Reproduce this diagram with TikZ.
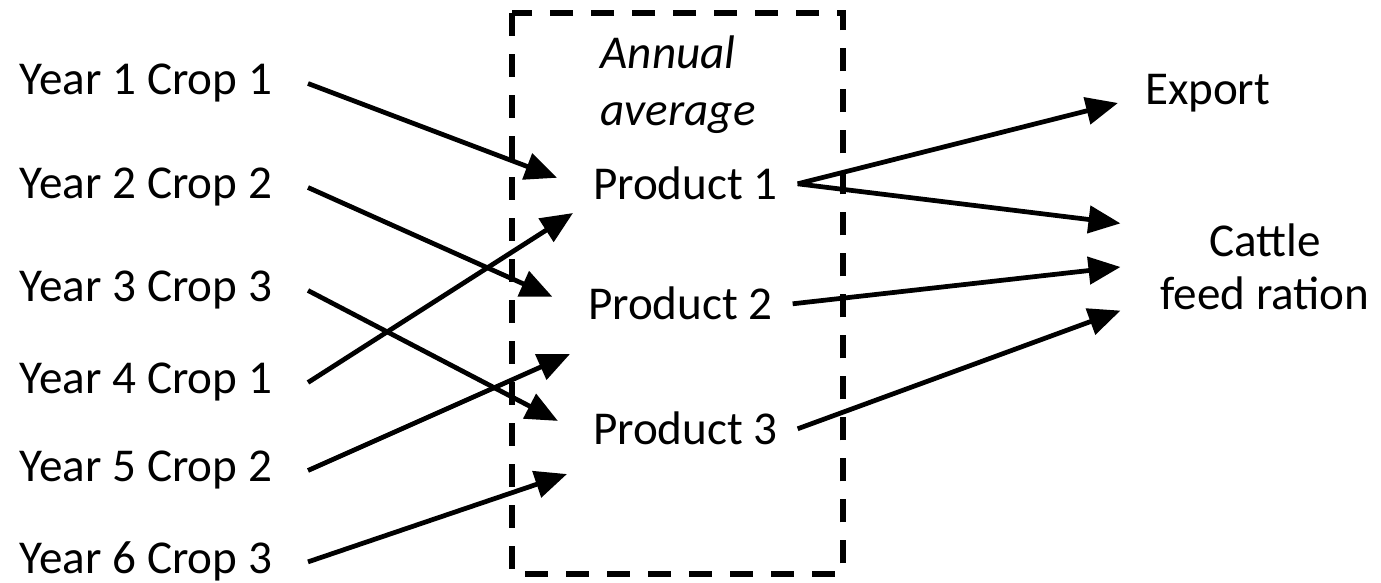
\documentclass[tikz,border=0pt]{standalone}
\usepackage{fontspec}
\setmainfont{Carlito}
\usetikzlibrary{arrows.meta}

\begin{document}
\begin{tikzpicture}[x=0.01cm, y=-0.01cm,
    every node/.style={inner sep=0, font=\fontsize{13.4}{16}\selectfont},
    crop/.style={anchor=base east, outer xsep=0.36cm},
    product/.style={anchor=base west, outer xsep=0.2cm},
    flow/.style={line width=1.35pt, -{Triangle[length=0.32cm,width=0.27cm]}},
    frame/.style={line width=1.5pt, dash pattern=on 0.23cm off 0.18cm}]
    \useasboundingbox (0,0) rectangle (1381,583);

    \foreach \n/\c/\y in {1/1/95, 2/2/199, 3/3/302, 4/1/394, 5/2/482, 6/3/574}
        \node[crop] (year\n) at (308,\y) {Year \n\ Crop \c};

    \draw[frame] (512,13) rectangle (843,574);
    \node[anchor=west, align=left, font=\itshape\fontsize{13.4}{16.2}\selectfont] (avg) at (600,85) {Annual\\average};

    \node[product] (prod1) at (573,200) {Product 1};
    \node[product] (prod2) at (568,320) {Product 2};
    \node[product] (prod3) at (573,445) {Product 3};

    \node[anchor=base west, outer xsep=0.27cm] (export) at (1118,105) {Export};
    \node[align=center, outer xsep=0.4cm, font=\fontsize{13.4}{15}\selectfont] (cattle) at (1265,267) {Cattle\\feed ration};

    \draw[flow, shorten >=0.17cm] (year1.east) -- (prod1.west);
    \draw[flow, shorten >=0.17cm] (year2.east) -- (prod2.west);
    \draw[flow, shorten >=0.17cm] (year3.east) -- (prod3.west);
    \draw[flow] (year4.east) -- ([shift={(0,12)}]prod1.south west);
    \draw[flow] (year5.east) -- ([shift={(2,33)}]prod2.south west);
    \draw[flow] (year6.east) -- ([shift={(-6,28)}]prod3.south west);

    \draw[flow] (prod1.east) -- ([yshift=0.02cm]export.base west);
    \draw[flow] (prod1.east) -- (cattle.north west);
    \draw[flow] (prod2.east) -- (cattle.west);
    \draw[flow] (prod3.east) -- (cattle.south west);
\end{tikzpicture}
\end{document}
